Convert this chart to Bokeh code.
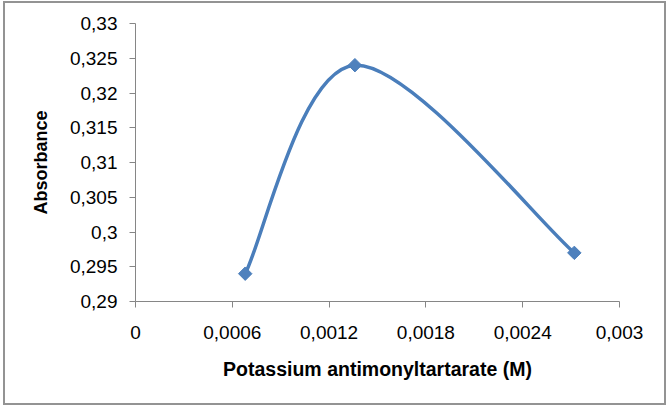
import math
from bokeh.plotting import figure
from bokeh.models import FixedTicker, Range1d
from bokeh.embed import file_html
from bokeh.resources import INLINE

# Measured absorbance against potassium antimonyltartarate concentration
conc_m = [0.00068, 0.00136, 0.00272]
absorbance = [0.294, 0.324, 0.297]

x_ticks = [0, 0.0006, 0.0012, 0.0018, 0.0024, 0.003]
x_tick_labels = ["0", "0,0006", "0,0012", "0,0018", "0,0024", "0,003"]
y_ticks = [0.29, 0.295, 0.30, 0.305, 0.31, 0.315, 0.32, 0.325, 0.33]
y_tick_labels = ["0,29", "0,295", "0,3", "0,305", "0,31", "0,315", "0,32", "0,325", "0,33"]

LINE = "#4a7ebb"
MARK = "#4f81bd"
AXIS = "#868686"
FRAME = "#939393"
FONT = "Liberation Sans"

p = figure(width=671, height=412, output_backend="svg", toolbar_location=None,
           x_range=Range1d(0, 0.003), y_range=Range1d(0.29, 0.33),
           min_border_left=135, min_border_right=52,
           min_border_top=23, min_border_bottom=111)
p.xgrid.visible = False
p.ygrid.visible = False
p.outline_line_color = None
p.background_fill_color = "white"
# transparent canvas border so the chart-area frame painted on the host shows
p.border_fill_alpha = 0
bar = f"linear-gradient({FRAME}, {FRAME})"
p.styles = {
    "background-color": "white",
    "background-image": ", ".join([bar] * 4),
    "background-repeat": "no-repeat",
    "background-position": "3px 1px, 3px 403px, 3px 1px, 664px 1px",
    "background-size": "663px 2px, 663px 2px, 2px 404px, 2px 404px",
}

# Smoothed connecting line: cubic Bezier segments with Catmull-Rom style
# control points (factor 1/6), endpoints duplicated at the ends.
n = len(conc_m)
seg = dict(x0=[], y0=[], x1=[], y1=[], cx0=[], cy0=[], cx1=[], cy1=[])
for i in range(n - 1):
    xa, ya = conc_m[i], absorbance[i]
    xb, yb = conc_m[i + 1], absorbance[i + 1]
    xp, yp = conc_m[max(i - 1, 0)], absorbance[max(i - 1, 0)]
    xn, yn = conc_m[min(i + 2, n - 1)], absorbance[min(i + 2, n - 1)]
    seg["x0"].append(xa); seg["y0"].append(ya)
    seg["x1"].append(xb); seg["y1"].append(yb)
    seg["cx0"].append(xa + (xb - xp) / 6); seg["cy0"].append(ya + (yb - yp) / 6)
    seg["cx1"].append(xb - (xn - xa) / 6); seg["cy1"].append(yb - (yn - ya) / 6)

p.bezier(x0="x0", y0="y0", x1="x1", y1="y1", cx0="cx0", cy0="cy0",
         cx1="cx1", cy1="cy1", source=seg, line_color=LINE, line_width=3.5)
# diamond markers: squares turned by 45 degrees
p.scatter(conc_m, absorbance, marker="square", angle=math.pi / 4, size=9.5,
          fill_color=MARK, line_color=LINE, line_width=1)

for ax, ticks, labels in ((p.xaxis[0], x_ticks, x_tick_labels),
                          (p.yaxis[0], y_ticks, y_tick_labels)):
    ax.ticker = FixedTicker(ticks=ticks)
    ax.major_label_overrides = {t: l for t, l in zip(ticks, labels)}
    ax.minor_tick_line_color = None
    ax.axis_line_color = AXIS
    ax.major_tick_line_color = AXIS
    ax.major_tick_in = 0
    ax.major_tick_out = 6
    ax.major_label_text_font = FONT
    ax.major_label_text_font_size = "19px"
    ax.major_label_text_color = "#000000"
    ax.axis_label_text_font = FONT
    ax.axis_label_text_font_style = "bold"
    ax.axis_label_text_color = "#000000"

p.xaxis.axis_label = "Potassium antimonyltartarate (M)"
p.xaxis.axis_label_text_font_size = "19.5px"
p.xaxis.major_label_standoff = 18
p.xaxis.axis_label_standoff = 16
p.yaxis.axis_label = "Absorbance"
p.yaxis.axis_label_text_font_size = "18px"
p.yaxis.major_label_standoff = 12
p.yaxis.axis_label_standoff = 16

open("out.html", "w").write(file_html(p, INLINE))
